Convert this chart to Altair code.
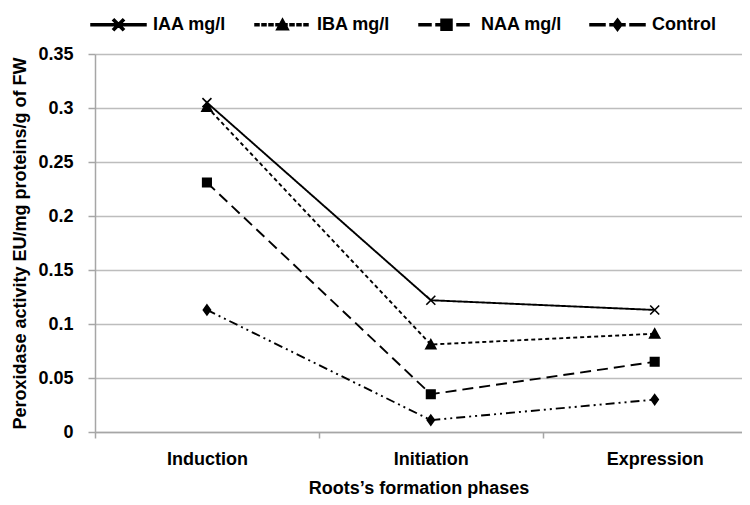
import math
import altair as alt
import pandas as pd

phases = ["Induction", "Initiation", "Expression"]
series = ["IAA mg/l", "IBA mg/l", "NAA mg/l", "Control"]
iaa = [0.305, 0.122, 0.113]
iba = [0.301, 0.081, 0.091]
naa = [0.231, 0.035, 0.065]
control = [0.113, 0.011, 0.030]
y_ticks = [0, 0.05, 0.1, 0.15, 0.2, 0.25, 0.3, 0.35]

rows = []
for name, vals in zip(series, [iaa, iba, naa, control]):
    for i, (p, v) in enumerate(zip(phases, vals)):
        rows.append({"series": name, "phase": p, "idx": i, "value": v})
df = pd.DataFrame(rows)

# line styles
dashes = [[1, 0], [4, 3], [11, 6], [9, 4, 2, 4, 2, 4]]
marker_paths = [
    "M-0.9,-0.9L0.9,0.9M-0.9,0.9L0.9,-0.9",
    "M-1,0.85L0,-0.95L1,0.85Z",
    "M-0.85,-0.85H0.85V0.85H-0.85Z",
    "M0,-1L0.72,0L0,1L-0.72,0Z",
]

# legend symbols: filled geometry (line dashes + marker), built in px then normalised
R = 27.5  # half width of legend symbol in px
T = 1.0  # half line thickness in px


def n(v):
    return f"{v / R:.4f}"


def rect(x0, x1, y0, y1):
    return f"M{n(x0)},{n(y0)}H{n(x1)}V{n(y1)}H{n(x0)}Z"


def dash_line(pattern):
    out = ""
    x = -R
    k = 0
    while x < R:
        seg = pattern[k % len(pattern)]
        if k % 2 == 0:
            out += rect(x, min(x + seg, R), -T, T)
        x += seg
        k += 1
    return out


def x_marker(a):
    d = T * 1.1 / math.sqrt(2)
    p1 = f"M{n(-a + d)},{n(-a - d)}L{n(a + d)},{n(a - d)}L{n(a - d)},{n(a + d)}L{n(-a - d)},{n(-a + d)}Z"
    p2 = f"M{n(-a - d)},{n(a - d)}L{n(a - d)},{n(-a - d)}L{n(a + d)},{n(-a + d)}L{n(-a + d)},{n(a + d)}Z"
    return p1 + p2


legend_markers = [
    x_marker(5),
    f"M{n(-6)},{n(5)}L0,{n(-6)}L{n(6)},{n(5)}Z",
    rect(-5.5, 5.5, -5.5, 5.5),
    f"M0,{n(-6)}L{n(4.5)},0L0,{n(6)}L{n(-4.5)},0Z",
]
legend_patterns = [[55, 0], [4, 3], [12, 5, 16, 5, 12, 5], [15, 5, 15, 5, 15]]
legend_paths = [dash_line(p) + m for p, m in zip(legend_patterns, legend_markers)]

label_expr = ""
for i, p in enumerate(phases):
    label_expr += f"datum.value === {i} ? '{p}' : "
label_expr += "''"

FONT = "Liberation Sans"
FS = 18

x_enc = alt.X(
    "idx:Q",
    scale=alt.Scale(domain=[-0.5, 2.39], nice=False, zero=False),
    axis=alt.Axis(
        values=[-0.5, 0, 0.5, 1, 1.5, 2],
        labelExpr=label_expr,
        tickOpacity={"condition": {"test": "datum.value % 1 !== 0", "value": 1}, "value": 0},
        grid=False,
        tickSize=6,
        tickColor="#a6a6a6",
        tickWidth=1.5,
        domainColor="#a6a6a6",
        domainWidth=1.5,
        labelPadding=12,
        labelFlush=False,
        labelFont=FONT,
        labelFontSize=FS,
        labelFontWeight="bold",
        labelColor="black",
        title="Roots\u2019s formation phases",
        titleFont=FONT,
        titleFontSize=FS,
        titleFontWeight="bold",
        titleColor="black",
        titlePadding=11,
    ),
)
y_enc = alt.Y(
    "value:Q",
    scale=alt.Scale(domain=[0, 0.35], nice=False),
    axis=alt.Axis(
        values=y_ticks,
        format=".2~f",
        grid=True,
        gridColor="#bdbdbd",
        gridWidth=1.5,
        tickSize=7,
        tickColor="#a6a6a6",
        tickWidth=1.5,
        domainColor="#a6a6a6",
        domainWidth=1.5,
        labelPadding=15,
        labelFont=FONT,
        labelFontSize=FS,
        labelFontWeight="bold",
        labelColor="black",
        title="Peroxidase activity EU/mg proteins/g of FW",
        titleFont=FONT,
        titleFontSize=FS,
        titleFontWeight="bold",
        titleColor="black",
        titlePadding=8,
    ),
)

legend = alt.Legend(
    orient="none",
    legendX=-5,
    legendY=-58,
    direction="horizontal",
    title=None,
    symbolSize=(2 * R) ** 2,
    symbolFillColor="black",
    symbolOpacity=1,
    labelFont=FONT,
    labelFontSize=FS,
    labelFontWeight="bold",
    labelColor="black",
    labelOffset=6,
    columnPadding=25,
)

lines = alt.Chart(df).mark_line(color="black", strokeWidth=1.9).encode(
    x=x_enc,
    y=y_enc,
    strokeDash=alt.StrokeDash(
        "series:N", scale=alt.Scale(domain=series, range=dashes), legend=None
    ),
    detail="series:N",
)

points = alt.Chart(df).mark_point(
    fill="black", stroke="black", strokeWidth=1.6, opacity=1, size=100
).encode(
    x=x_enc,
    y=y_enc,
    shape=alt.Shape("series:N", scale=alt.Scale(domain=series, range=marker_paths), legend=None),
)

legend_layer = alt.Chart(df).transform_filter("false").mark_point(
    fill="black", stroke="black", strokeWidth=1.6, opacity=1, size=(2 * R) ** 2
).encode(
    x=x_enc,
    y=y_enc,
    shape=alt.Shape("series:N", scale=alt.Scale(domain=series, range=legend_paths), legend=legend),
)

chart = alt.layer(lines, points, legend_layer).resolve_scale(
    shape="independent"
).properties(
    width=647,
    height=378,
    autosize=alt.AutoSizeParams(type="none"),
    padding={"left": 87, "top": 46, "right": 0, "bottom": 71},
).configure_view(stroke=None)

chart.save("out.html", embed_options={"renderer": "svg", "actions": False})
